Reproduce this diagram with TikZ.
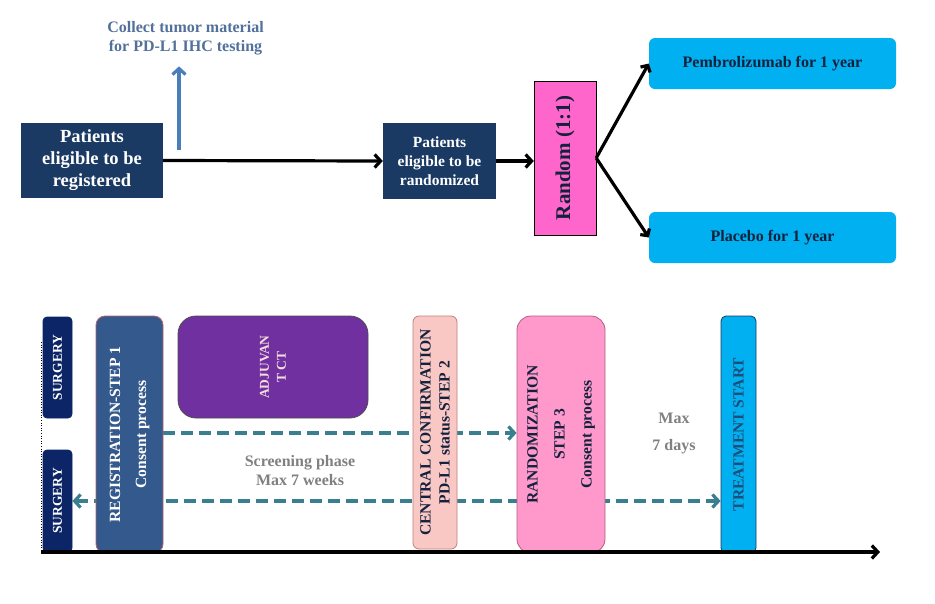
\documentclass[tikz,border=0pt]{standalone}
\usepackage{fontspec}
\setmainfont{Liberation Serif}
\usepackage{xcolor}
\usetikzlibrary{arrows,arrows.meta,backgrounds}
\definecolor{navybox}{HTML}{1A3A63}
\definecolor{collecttext}{HTML}{52709A}
\definecolor{collectarrow}{HTML}{4A7EBB}
\definecolor{randbox}{HTML}{FF66CC}
\definecolor{armbox}{HTML}{00B0F0}
\definecolor{armtext}{HTML}{14213D}
\definecolor{surgbox}{HTML}{0B2566}
\definecolor{regbox}{HTML}{34598C}
\definecolor{regline}{HTML}{B9646F}
\definecolor{adjbox}{HTML}{7030A0}
\definecolor{adjtext}{HTML}{F2DCDB}
\definecolor{centbox}{HTML}{FAC8C4}
\definecolor{centline}{HTML}{C0807F}
\definecolor{stepbox}{HTML}{FF99CC}
\definecolor{stepline}{HTML}{B35C7E}
\definecolor{treattext}{HTML}{1F4E79}
\definecolor{dashteal}{HTML}{3A7F8F}
\definecolor{phasetext}{HTML}{808080}

\begin{document}
\begin{tikzpicture}[x=1pt,y=-1pt]
\useasboundingbox (0,0) rectangle (935,603);
\tikzset{TopBox/.style={fill=navybox,text=white,align=center,inner sep=0pt}}
\tikzset{ArmBox/.style={fill=armbox,rounded corners=6pt,text=armtext,minimum width=247pt,minimum height=51pt,
  font=\bfseries\fontsize{16}{19}\selectfont}}
\tikzset{TimeBox/.style={inner sep=0pt,line width=0.8pt}}
\tikzset{UpText/.style={rotate=90,align=center,font=\bfseries\fontsize{15.6}{19}\selectfont}}
\tikzset{OpenTip/.style={-{Straight Barb[length=6pt,width=13pt]}}}
\tikzset{FlowEdge/.style={OpenTip,line width=3.2pt,black}}
\tikzset{DashEdge/.style={OpenTip,line width=3.2pt,dashteal,dash pattern=on 12pt off 6pt}}

\node[TopBox,minimum width=142pt,minimum height=75pt,font=\bfseries\fontsize{18.5}{22}\selectfont]
  (regpat) at (92,160.5) {Patients\\eligible to be\\registered};
\node[TopBox,minimum width=113pt,minimum height=76pt,font=\bfseries\fontsize{15.5}{19}\selectfont]
  (randpat) at (439.5,161) {Patients\\eligible to be\\randomized};
\node[draw=black,fill=randbox,minimum width=62pt,minimum height=154pt,
  label={[UpText,text=armtext,font=\bfseries\fontsize{21}{24}\selectfont]center:Random (1:1)}]
  (random) at (565,158) {};
\node[ArmBox] (pembro) at (772.5,63.5) {Pembrolizumab for 1 year};
\node[ArmBox] (placebo) at (772.5,237.5) {Placebo for 1 year};
\node[align=center,text=collecttext,font=\bfseries\fontsize{16}{19}\selectfont]
  (collect) at (185.5,38) {Collect tumor material\\for PD-L1 IHC testing};
\coordinate (tap) at (179,150);

\draw[FlowEdge] (regpat.east) -- (randpat.west);
\draw[OpenTip,line width=3.2pt,collectarrow] (tap) -- (tap |- collect.south) [shorten >=8pt];
\draw[FlowEdge] (randpat.east) -- (randpat.east -| random.west);
\draw[FlowEdge,-{Straight Barb[length=5pt,width=11pt]}] (random.east) -- (pembro.west);
\draw[FlowEdge,-{Straight Barb[length=5pt,width=11pt]}] (random.east) -- (placebo.west);

\node[TimeBox,fill=surgbox,draw=surgbox,rounded corners=4pt,minimum width=29pt,minimum height=101pt,
  label={[UpText,text=white,font=\bfseries\fontsize{13.5}{16}\selectfont]center:SURGERY}]
  (surgA) at (57.5,367.5) {};
\node[TimeBox,fill=surgbox,draw=surgbox,rounded corners=4pt,minimum width=29pt,minimum height=102pt,
  label={[UpText,text=white,font=\bfseries\fontsize{13.5}{16}\selectfont]center:SURGERY}]
  (surgB) at (57.5,501) {};
\node[TimeBox,fill=regbox,draw=regline,rounded corners=9pt,minimum width=67pt,minimum height=237pt,
  label={[UpText,text=white]center:REGISTRATION-STEP 1\\[7pt]Consent process}]
  (regstep) at (129.5,434.5) {};
\node[TimeBox,fill=adjbox,draw=black!70,rounded corners=18pt,minimum width=190pt,minimum height=102pt,
  label={[UpText,text=adjtext,font=\bfseries\fontsize{13.5}{17}\selectfont]center:ADJUVAN\\T CT}]
  (adjct) at (273,367) {};
\node[TimeBox,fill=centbox,draw=centline,rounded corners=6pt,minimum width=44pt,minimum height=233pt,
  label={[UpText,text=armtext]center:CENTRAL CONFIRMATION\\PD-L1 status-STEP 2}]
  (central) at (435,432.5) {};
\node[TimeBox,fill=stepbox,draw=stepline,rounded corners=14pt,minimum width=88pt,minimum height=237pt,
  label={[UpText,text=armtext]center:RANDOMIZATION\\[8pt]STEP 3\\[8pt]Consent process}]
  (randstep) at (561,434.5) {};
\node[TimeBox,fill=armbox,draw=navybox,rounded corners=5pt,minimum width=35pt,minimum height=237pt,
  label={[UpText,text=treattext]center:TREATMENT START}]
  (treat) at (738.5,434.5) {};

\node[align=center,text=phasetext,font=\bfseries\fontsize{16}{19}\selectfont]
  (screen) at (300,470.5) {Screening phase\\Max 7 weeks};
\node[align=center,text=phasetext,font=\bfseries\fontsize{16}{27}\selectfont]
  (maxdays) at (674,433.5) {Max\\7 days};

\coordinate (dashA) at (163,433);
\coordinate (axisA) at (41,552);
\coordinate (axisB) at (880,552);
\coordinate (dotA) at (41,342);

\begin{scope}[on background layer]
\draw[DashEdge] (dashA) -- (dashA -| randstep.west);
\draw[DashEdge,{Straight Barb[length=6pt,width=13pt]}-{Straight Barb[length=6pt,width=13pt]}]
  (surgB.east) -- (surgB.east -| treat.west);
\draw[line width=0.6pt,dotted] (dotA) -- (axisA);
\end{scope}
\draw[FlowEdge] (axisA) -- (axisB);
\end{tikzpicture}
\end{document}
